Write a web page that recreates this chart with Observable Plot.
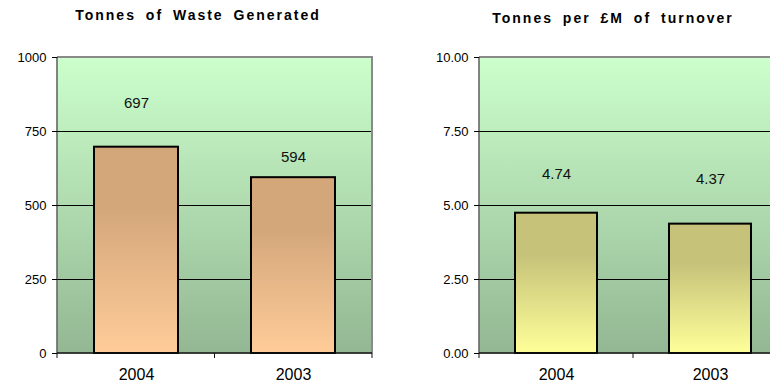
<!DOCTYPE html>
<html>
<head>
<meta charset="utf-8">
<script src="https://cdn.jsdelivr.net/npm/d3@7"></script>
<script src="https://cdn.jsdelivr.net/npm/@observablehq/plot@0.6"></script>
<style>
  body { margin: 0; background: #fff; font-family: "Liberation Sans", Arial, sans-serif; }
  #wrap { position: relative; width: 770px; height: 383px; overflow: hidden; }
  .panel { position: absolute; top: 0; }
  .panel svg { max-width: none !important; display: block; }
  .title {
    position: absolute; font-weight: bold; font-size: 14px; line-height: 1;
    letter-spacing: 2px; word-spacing: 4px; white-space: nowrap;
    transform: translateX(-50%); color: #000;
  }
</style>
</head>
<body>
<div id="wrap"></div>
<script>
// Categories and series
const years = ["2004", "2003"];
const wasteTonnes = [697, 594];
const tonnesPerMillion = [4.74, 4.37];

// Tick values for each value axis
const wasteTicks = [0, 250, 500, 750, 1000];
const intensityTicks = [0, 2.5, 5, 7.5, 10];

const titles = ["Tonnes of Waste Generated", "Tonnes per £M of turnover"];

function panel({id, values, ticks, tickFormat, labelFormat, labelLift, left, width, marginLeft,
                barTop, barBottom, title, titleX, titleTop}) {
  const rows = years.map((year, i) => ({year, value: values[i]}));
  const marginRight = 13, marginTop = 57, marginBottom = 30, height = 383;

  // gradient definitions for the plot background and the bars
  const defs = () => {
    const d = d3.create("svg:defs");
    const bg = d.append("linearGradient").attr("id", `${id}-bg`)
      .attr("x1", 0).attr("y1", 0).attr("x2", 0).attr("y2", 1);
    bg.append("stop").attr("offset", "0%").attr("stop-color", "#ccffcc");
    bg.append("stop").attr("offset", "100%").attr("stop-color", "#93b793");
    const bar = d.append("linearGradient").attr("id", `${id}-bar`)
      .attr("x1", 0).attr("y1", 0).attr("x2", 0).attr("y2", 1);
    bar.append("stop").attr("offset", "0%").attr("stop-color", barTop);
    bar.append("stop").attr("offset", "30%").attr("stop-color", barTop);
    bar.append("stop").attr("offset", "100%").attr("stop-color", barBottom);
    return d.node();
  };

  // plot-area border, axis lines and the category-boundary ticks
  const frameLines = (index, scales, vals, dim) => {
    const g = d3.create("svg:g").attr("fill", "none");
    const x0 = dim.marginLeft, x1 = dim.width - dim.marginRight;
    const y0 = dim.marginTop, y1 = dim.height - dim.marginBottom;
    const step = (x1 - x0) / years.length;
    g.append("path").attr("stroke", "#8a8a8a").attr("stroke-width", 2)
      .attr("d", `M${x0},${y0}H${x1}V${y1}`);
    g.append("path").attr("stroke", "#333").attr("stroke-width", 1.2)
      .attr("d", `M${x0},${y0}V${y1}`);
    g.append("path").attr("stroke", "#111").attr("stroke-width", 1.5)
      .attr("d", `M${x0},${y1}H${x1}`);
    for (let k = 0; k <= years.length; k++) {
      g.append("path").attr("stroke", "#111").attr("stroke-width", 1)
        .attr("d", `M${x0 + k * step},${y1}v5`);
    }
    return g.node();
  };

  const marks = [
    defs,
    Plot.frame({fill: `url(#${id}-bg)`, stroke: null}),
    Plot.ruleY(ticks.slice(1, -1), {stroke: "#000", strokeWidth: 1}),
    Plot.barY(rows, {x: "year", y: "value", fill: `url(#${id}-bar)`, stroke: "#000", strokeWidth: 2}),
    frameLines,
    Plot.axisY({ticks, tickFormat, tickSize: 5, tickPadding: 6, fontSize: 13, stroke: "#000"}),
    Plot.axisX({tickSize: 0, tickPadding: 15, fontSize: 16})
  ];
  rows.forEach((r, i) => {
    marks.push(Plot.text([r], {
      x: "year", y: "value", text: d => labelFormat(d.value),
      dy: labelLift[i], fontSize: 15, fill: "#111", lineAnchor: "middle"
    }));
  });

  const chart = Plot.plot({
    width, height, marginLeft, marginRight, marginTop, marginBottom,
    style: {fontFamily: "'Liberation Sans', Arial, sans-serif", background: "transparent", color: "#000", maxWidth: "none"},
    x: {domain: years, paddingInner: 0.467, paddingOuter: 0.2335, label: null},
    y: {domain: [0, ticks[ticks.length - 1]], label: null},
    marks
  });

  const holder = document.createElement("div");
  holder.className = "panel";
  holder.style.left = left + "px";
  holder.style.width = width + "px";
  holder.appendChild(chart);
  const t = document.createElement("div");
  t.className = "title";
  t.textContent = title;
  t.style.left = titleX + "px";
  t.style.top = titleTop + "px";
  const wrap = document.getElementById("wrap");
  wrap.appendChild(holder);
  wrap.appendChild(t);
}

panel({
  id: "waste", values: wasteTonnes, ticks: wasteTicks,
  tickFormat: d3.format("d"), labelFormat: d3.format("d"), labelLift: [-44, -20],
  left: 0, width: 385, marginLeft: 57,
  barTop: "#d4a77b", barBottom: "#ffcc99",
  title: titles[0], titleX: 198, titleTop: 7.5
});

panel({
  id: "intensity", values: tonnesPerMillion, ticks: intensityTicks,
  tickFormat: d3.format(".2f"), labelFormat: d3.format(".2f"), labelLift: [-39, -45],
  left: 400, width: 400, marginLeft: 79,
  barTop: "#c6c27a", barBottom: "#ffff99",
  title: titles[1], titleX: 613, titleTop: 11
});
</script>
</body>
</html>
